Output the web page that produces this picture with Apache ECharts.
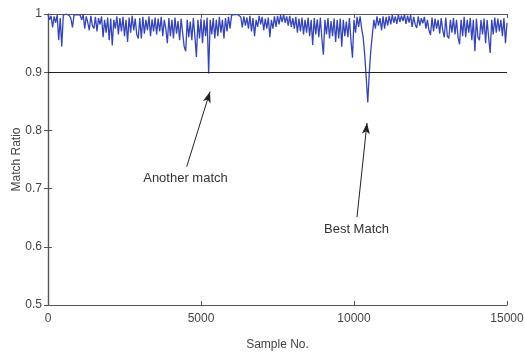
<!DOCTYPE html>
<html>
<head>
<meta charset="utf-8">
<script src="https://cdn.jsdelivr.net/npm/echarts@6/dist/echarts.min.js"></script>
<style>
  html, body { margin: 0; padding: 0; background: #fff; }
  #main { width: 525px; height: 358px; }
</style>
</head>
<body>
<div id="main"></div>
<script>
// samples every 50 (0 .. 15000)
var sampleStep = 50;
var matchRatio = [
  0.998, 0.990, 0.997, 0.977, 0.996, 0.985, 0.998, 0.955, 0.993, 0.944,
  0.998, 0.999, 1.000, 0.999, 0.997, 0.992, 0.977, 0.998, 1.000, 0.999,
  1.000, 0.998, 0.990, 0.999, 0.975, 0.996, 0.985, 0.972, 0.997, 0.980,
  0.975, 0.995, 0.970, 0.993, 0.982, 0.996, 0.960, 0.990, 0.968, 0.994,
  0.955, 0.992, 0.946, 0.990, 0.975, 0.996, 0.965, 0.993, 0.970, 0.995,
  0.962, 0.990, 0.952, 0.994, 0.968, 0.997, 0.972, 0.992, 0.965, 0.958,
  0.993, 0.958, 0.995, 0.966, 0.990, 0.972, 0.996, 0.962, 0.991, 0.970,
  0.994, 0.965, 0.992, 0.970, 0.995, 0.962, 0.990, 0.975, 0.950, 0.993,
  0.962, 0.990, 0.958, 0.994, 0.966, 0.988, 0.955, 0.992, 0.968, 0.944,
  0.936, 0.990, 0.960, 0.987, 0.955, 0.993, 0.962, 0.926, 0.990, 0.958,
  0.992, 0.950, 0.990, 0.962, 0.994, 0.898, 0.990, 0.965, 0.993, 0.958,
  0.990, 0.962, 0.995, 0.968, 0.990, 0.958, 0.993, 0.970, 0.995, 0.975,
  0.998, 1.000, 0.999, 1.000, 0.999, 1.000, 0.995, 0.977, 0.996, 0.980,
  0.994, 0.975, 0.997, 0.970, 0.993, 0.962, 0.990, 0.978, 0.997, 0.982,
  0.995, 0.972, 0.992, 0.975, 0.994, 0.960, 0.990, 0.975, 0.996, 0.978,
  0.997, 0.982, 0.998, 0.986, 0.999, 0.985, 0.996, 0.980, 0.997, 0.978,
  0.993, 0.975, 0.995, 0.968, 0.992, 0.970, 0.994, 0.965, 0.990, 0.968,
  0.994, 0.962, 0.990, 0.947, 0.993, 0.965, 0.991, 0.960, 0.994, 0.958,
  0.930, 0.990, 0.965, 0.993, 0.958, 0.988, 0.962, 0.992, 0.952, 0.990,
  0.958, 0.992, 0.944, 0.990, 0.962, 0.987, 0.960, 0.993, 0.955, 0.925,
  0.990, 0.968, 0.995, 0.978, 0.996, 0.975, 0.960, 0.930, 0.890, 0.848,
  0.900, 0.938, 0.965, 0.990, 0.975, 0.996, 0.980, 0.993, 0.972, 0.996,
  0.975, 0.995, 0.980, 0.997, 0.982, 0.998, 0.985, 0.996, 0.983, 0.999,
  0.986, 0.997, 0.988, 0.999, 0.983, 0.997, 0.985, 0.998, 0.978, 0.995,
  0.982, 0.976, 0.996, 0.980, 0.993, 0.984, 0.995, 0.975, 0.990, 0.972,
  0.964, 0.994, 0.970, 0.992, 0.975, 0.990, 0.966, 0.993, 0.972, 0.960,
  0.994, 0.962, 0.958, 0.990, 0.968, 0.993, 0.965, 0.990, 0.960, 0.948,
  0.990, 0.962, 0.995, 0.960, 0.990, 0.968, 0.993, 0.955, 0.990, 0.936,
  0.992, 0.960, 0.955, 0.990, 0.965, 0.992, 0.950, 0.990, 0.960, 0.933,
  0.990, 0.965, 0.994, 0.968, 0.992, 0.970, 0.990, 0.962, 0.993, 0.950,
  0.985
];
var threshold = 0.895;

// annotations: [text, text x, text y, arrow tail x, tail y, head x, head y]
var notes = [
  ['Another match', 4493, 0.7174, 4533, 0.7376, 5294, 0.8665],
  ['Best Match', 10082, 0.6297, 10098, 0.651, 10425, 0.8127]
];

var font = '"Liberation Sans Narrow", "Liberation Sans", Arial, sans-serif';
var axisColor = '#555';

var seriesData = matchRatio.map(function (v, i) {
  return [i * sampleStep, v];
});

var chart = echarts.init(document.getElementById('main'), null, { renderer: 'canvas' });

var frameAxis = {
  axisLine: { show: true, lineStyle: { color: axisColor, width: 1.2 } },
  axisTick: { show: true, inside: true, length: 4, lineStyle: { color: axisColor } },
  splitLine: { show: false }
};

var option = {
  animation: false,
  backgroundColor: '#fff',
  grid: { left: 48, right: 18, top: 14, bottom: 53, containLabel: false, outerBoundsMode: 'none' },
  xAxis: [
    Object.assign({
      type: 'value', min: 0, max: 15000, interval: 5000,
      name: 'Sample No.', nameLocation: 'middle', nameGap: 34, nameMoveOverlap: false,
      nameTextStyle: { fontFamily: font, fontSize: 12, color: '#444' },
      axisLabel: { margin: 8, fontFamily: font, fontSize: 12, color: '#444',
        showMinLabel: true, showMaxLabel: true,
        formatter: function (v) { return String(v); } }
    }, frameAxis),
    Object.assign({
      type: 'value', min: 0, max: 15000, interval: 5000, position: 'top',
      axisLabel: { show: false }
    }, frameAxis)
  ],
  yAxis: [
    Object.assign({
      type: 'value', min: 0.5, max: 1, interval: 0.1,
      name: 'Match Ratio', nameLocation: 'middle', nameGap: 25, nameRotate: 90, nameMoveOverlap: false,
      nameTextStyle: { fontFamily: '"Liberation Sans", Arial, sans-serif', fontSize: 12, color: '#444' },
      axisLabel: { margin: 6, fontFamily: font, fontSize: 12, color: '#444',
        formatter: function (v) { return String(Math.round(v * 10) / 10); } }
    }, frameAxis),
    Object.assign({
      type: 'value', min: 0.5, max: 1, interval: 0.1, position: 'right',
      axisLabel: { show: false }
    }, frameAxis)
  ],
  series: [
    {
      type: 'line',
      data: seriesData,
      showSymbol: false,
      symbol: 'none',
      lineStyle: { color: '#3545b8', width: 1.3 },
      z: 3
    },
    {
      type: 'line',
      data: [],
      symbol: 'none',
      silent: true,
      markLine: {
        silent: true,
        symbol: ['none', 'none'],
        label: { show: false },
        lineStyle: { color: '#222', width: 1.2, type: 'solid' },
        data: [{ yAxis: threshold }]
      },
      z: 2
    },
    {
      type: 'line',
      data: [],
      symbol: 'none',
      silent: true,
      markLine: {
        silent: true,
        symbol: ['none', 'arrow'],
        symbolSize: [6, 11],
        label: { show: false },
        lineStyle: { color: '#222', width: 1, type: 'solid' },
        data: notes.map(function (n) {
          return [{ coord: [n[3], n[4]] }, { coord: [n[5], n[6]] }];
        })
      },
      markPoint: {
        silent: true,
        symbol: 'circle',
        symbolSize: 0,
        label: {
          show: true, position: 'inside', fontFamily: font, fontSize: 13, color: '#333'
        },
        data: notes.map(function (n) {
          return { coord: [n[1], n[2]], value: n[0], label: { formatter: n[0] } };
        })
      },
      z: 4
    }
  ]
};

chart.setOption(option);
</script>
</body>
</html>
